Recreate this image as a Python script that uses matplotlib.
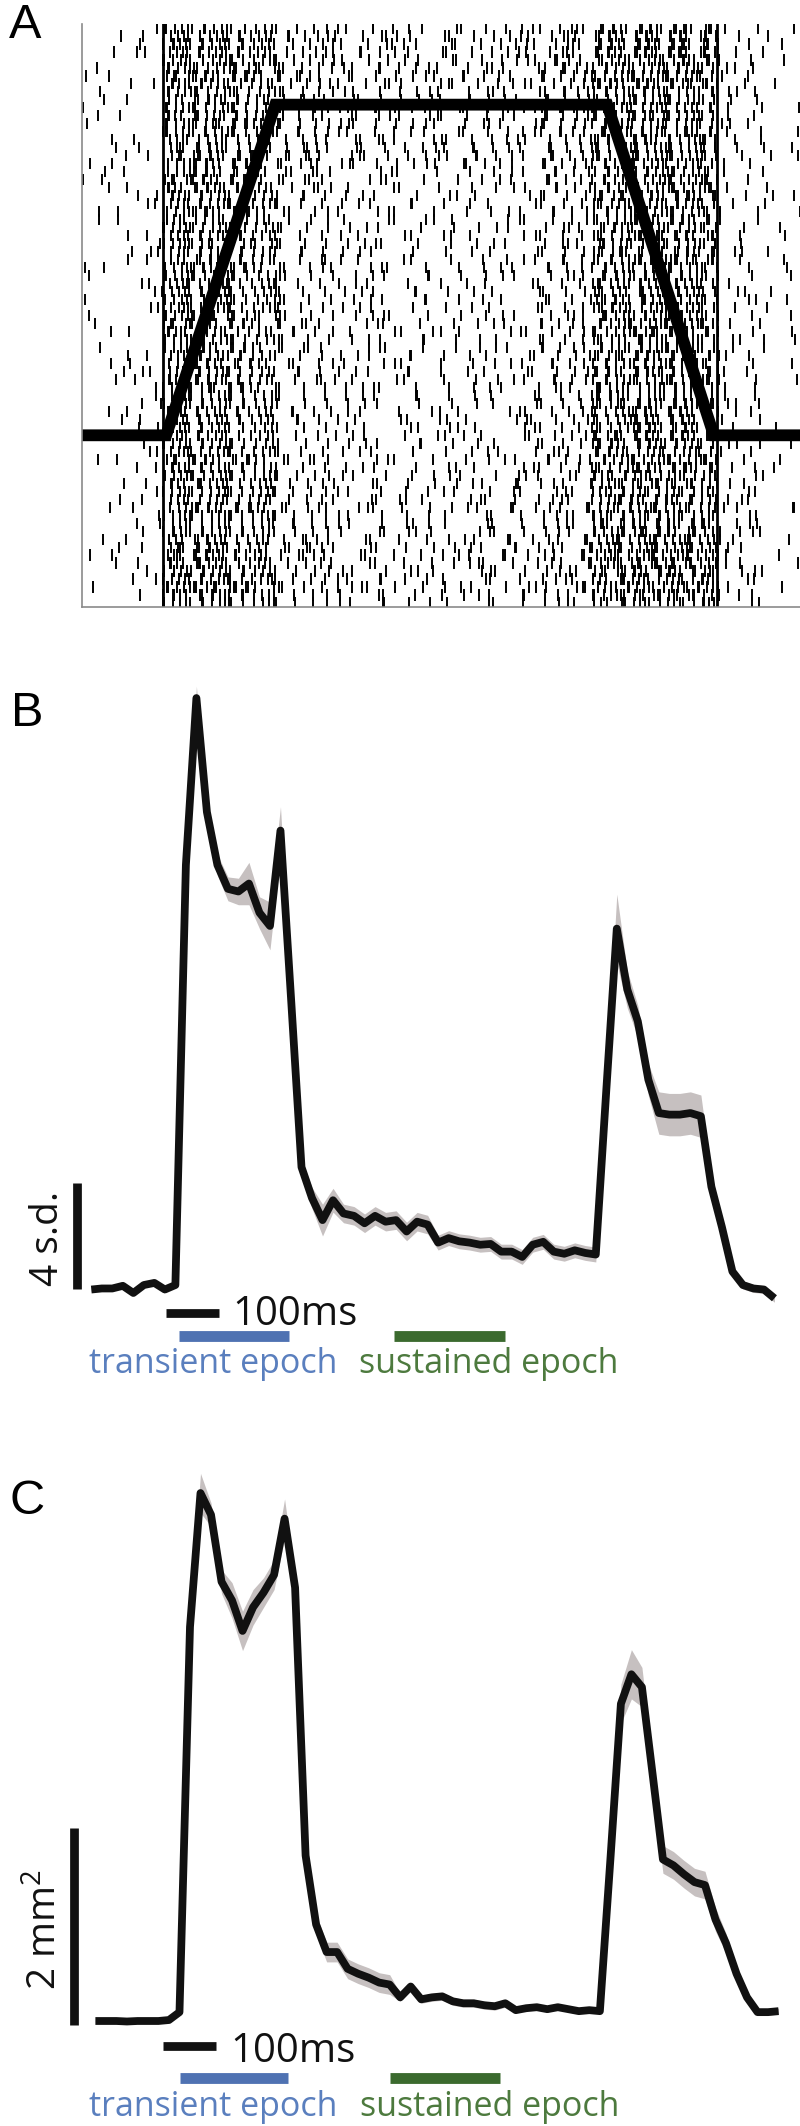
import numpy as np
import matplotlib
matplotlib.use("Agg")
import matplotlib.pyplot as plt

plt.rcParams['font.family'] = ['Open Sans', 'DejaVu Sans']
plt.rcParams['mathtext.fontset'] = 'custom'
plt.rcParams['mathtext.rm'] = 'Open Sans'
plt.rcParams['mathtext.it'] = 'Open Sans'

# ---------------- data ----------------
# Panel A: raster, firing rate (Hz) read per time bin and per band of trials
A_bin_edges = [-160, 0, 70, 150, 230, 330, 460, 600, 740, 840, 920, 1000, 1090, 1170, 1250]
A_rate_top      = [10, 85, 80, 65, 42, 34, 30, 32, 45, 80, 88, 82, 20, 14]
A_rate_uppermid = [12, 85, 78, 60, 32, 24, 20, 22, 34, 80, 88, 82, 18, 13]
A_rate_lowermid = [12, 85, 78, 60, 32, 24, 20, 24, 36, 80, 88, 82, 18, 13]
A_rate_bottom   = [10, 85, 80, 65, 38, 28, 24, 26, 38, 80, 90, 84, 20, 14]
A_band_rows = [17, 19, 19, 18]          # bottom, lower-mid, upper-mid, top
A_event_lines = [0, 1086]               # ms
A_stim_t = [-160, 6, 220, 871, 1080, 1250]
A_stim_y = [21.5, 21.5, 62.9, 62.9, 21.5, 21.5]

# Panels B and C: time (ms), sampled every 20 ms
t_ms = np.arange(-200, 1101, 20)
B_mean = [-0.02, 0.02, 0.02, 0.12, -0.15, 0.15, 0.23, -0.02, 0.15, 16.0,
          22.3, 18.0, 16.0, 15.1, 15.0, 15.3, 14.2, 13.7, 17.3, 11.0,
          4.6, 3.43, 2.6, 3.35, 2.85, 2.76, 2.48, 2.76, 2.54, 2.6,
          2.17, 2.54, 2.43, 1.75, 1.92, 1.8, 1.75, 1.67, 1.7, 1.41,
          1.41, 1.21, 1.67, 1.78, 1.41, 1.33, 1.46, 1.36, 1.30, 7.5,
          13.6, 11.3, 10.1, 7.9, 6.64, 6.58, 6.58, 6.64, 6.52, 3.86,
          2.34, 0.66, 0.15, 0.02, -0.02, -0.35]
B_sem = [0.06, 0.06, 0.06, 0.06, 0.06, 0.06, 0.06, 0.06, 0.06, 0.3,
         0.45, 0.35, 0.4, 0.45, 0.5, 0.8, 0.6, 0.9, 0.9, 0.5,
         0.3, 0.4, 0.6, 0.45, 0.35, 0.35, 0.35, 0.35, 0.35, 0.35,
         0.35, 0.35, 0.35, 0.28, 0.28, 0.28, 0.28, 0.28, 0.28, 0.28,
         0.28, 0.28, 0.28, 0.28, 0.28, 0.28, 0.28, 0.28, 0.28, 0.5,
         1.3, 0.7, 0.6, 0.6, 0.8, 0.8, 0.8, 0.8, 0.8, 0.5,
         0.3, 0.15, 0.15, 0.15, 0.15, 0.15]
C_mean = [0.0, 0.0, 0.0, -0.005, 0.0, 0.0, 0.0, 0.01, 0.09, 4.0,
          5.36, 5.14, 4.46, 4.27, 3.96, 4.20, 4.35, 4.53, 5.10, 4.40,
          1.68, 0.98, 0.70, 0.70, 0.53, 0.48, 0.44, 0.39, 0.37, 0.24,
          0.35, 0.22, 0.24, 0.25, 0.20, 0.18, 0.18, 0.16, 0.15, 0.18,
          0.11, 0.13, 0.14, 0.12, 0.14, 0.12, 0.10, 0.11, 0.10, 1.64,
          3.22, 3.52, 3.39, 2.52, 1.64, 1.58, 1.49, 1.41, 1.38, 1.03,
          0.79, 0.48, 0.24, 0.09, 0.09, 0.10]
C_sem = [0.01, 0.01, 0.01, 0.01, 0.01, 0.01, 0.01, 0.01, 0.03, 0.1,
         0.2, 0.12, 0.12, 0.18, 0.2, 0.18, 0.15, 0.15, 0.2, 0.12,
         0.08, 0.1, 0.1, 0.1, 0.1, 0.1, 0.1, 0.1, 0.1, 0.04,
         0.04, 0.04, 0.04, 0.04, 0.04, 0.04, 0.04, 0.04, 0.04, 0.04,
         0.02, 0.02, 0.02, 0.02, 0.02, 0.02, 0.02, 0.02, 0.02, 0.1,
         0.2, 0.25, 0.2, 0.15, 0.14, 0.14, 0.14, 0.14, 0.14, 0.12,
         0.1, 0.06, 0.03, 0.03, 0.03, 0.03]

scale_ms = 100
B_scale = 4
C_scale = 2
labels_epoch = ['transient epoch', 'sustained epoch']

# ---------------- style ----------------
BLUE_BAR, BLUE_TXT = '#4f72b2', '#5a7fbe'
GREEN_BAR, GREEN_TXT = '#3b6a2e', '#4d7a3e'
BAND = '#c6c0c0'

W, H = 800, 2126
fig = plt.figure(figsize=(W / 100, H / 100), dpi=100)


def rect(x0, y0, x1, y1):
    return [x0 / W, 1 - y1 / H, (x1 - x0) / W, (y1 - y0) / H]


# ---------------- Panel A ----------------
axA = fig.add_axes(rect(82, 24, 800, 607))
bands = [A_rate_bottom, A_rate_lowermid, A_rate_uppermid, A_rate_top]
row_rates = []
for nb, rates in zip(A_band_rows, bands):
    row_rates += [rates] * nb
n_rows = len(row_rates)

edges = np.array(A_bin_edges, dtype=float)
spikes = []
for r, rates in enumerate(row_rates):
    # cumulative expected spike count along the trial (from the read rates)
    cum = np.concatenate([[0.0], np.cumsum(np.array(rates) * np.diff(edges) / 1000.0)])
    off = (r * 0.6180339887 + 0.37) % 1
    n = int(np.floor(cum[-1] + off))
    j = np.arange(n)
    # deterministic spread of spikes within the expected-count scale
    spread = ((j * j) * 0.41421356 + j * 0.2360679 + r * 0.5698403 + r * r * 0.0314159) % 1
    c = np.clip(j + off + 1.6 * (spread - 0.5), 0, cum[-1])
    spikes.append(np.interp(c, cum, edges))

axA.eventplot(spikes, lineoffsets=np.arange(n_rows) + 0.5, linelengths=1.4,
              linewidths=1.4, colors='black')
for tl in A_event_lines:
    axA.axvline(tl, color='black', lw=2.0)
axA.plot(A_stim_t, A_stim_y, color='black', lw=8.5, solid_joinstyle='miter',
         solid_capstyle='butt')
axA.set_xlim(-159, 1249)
axA.set_ylim(0, n_rows)
axA.set_xticks([]); axA.set_yticks([])
for s in ['top', 'right']:
    axA.spines[s].set_visible(False)
for s in ['left', 'bottom']:
    axA.spines[s].set_color('#8a8a8a')
    axA.spines[s].set_linewidth(1.2)


# ---------------- Panel B / C helper ----------------
def trace_panel(ax, mean, sem, x0px, base_py, px_per_unit, y_top_px, y_bot_px,
                vbar_px, vbar_len, vlabel, vlabel_pos, hbar_px, hbar_y, txt100,
                blue_px, green_px, bar_y, epoch_txt):
    fx = lambda px: (px - x0px) / 0.5255
    fy = lambda py: (base_py - py) / px_per_unit
    m = np.array(mean); s = np.array(sem)
    ax.fill_between(t_ms, m - s, m + s, color=BAND, lw=0)
    ax.plot(t_ms, m, color='#111111', lw=5.6, solid_joinstyle='round',
            solid_capstyle='butt')
    ax.set_xlim(fx(0), fx(W))
    ax.set_ylim(fy(y_bot_px), fy(y_top_px))
    ax.axis('off')
    # vertical scale bar
    vb0 = fy(vbar_px[1])
    ax.plot([fx(vbar_px[0])] * 2, [vb0, vb0 + vbar_len], color='#111111',
            lw=6.3, solid_capstyle='butt')
    ax.text(fx(vlabel_pos[0]), fy(vlabel_pos[1]), vlabel, rotation=90,
            ha='center', va='center', fontsize=28, color='#111111')
    # horizontal 100ms bar
    h0 = fx(hbar_px)
    ax.plot([h0, h0 + scale_ms], [fy(hbar_y)] * 2, color='#111111', lw=6.3,
            solid_capstyle='butt')
    ax.text(fx(txt100[0]), fy(txt100[1]), '100ms', ha='left', va='baseline',
            fontsize=29, color='#111111')
    # epoch bars
    ax.plot([fx(blue_px[0]), fx(blue_px[1])], [fy(bar_y)] * 2, color=BLUE_BAR,
            lw=7.8, solid_capstyle='butt')
    ax.plot([fx(green_px[0]), fx(green_px[1])], [fy(bar_y)] * 2, color=GREEN_BAR,
            lw=7.8, solid_capstyle='butt')
    ax.text(fx(epoch_txt[0]), fy(epoch_txt[2]), labels_epoch[0], ha='left',
            va='baseline', fontsize=24.5, color=BLUE_TXT)
    ax.text(fx(epoch_txt[1]), fy(epoch_txt[2]), labels_epoch[1], ha='left',
            va='baseline', fontsize=24.5, color=GREEN_TXT)


axB = fig.add_axes(rect(0, 660, 800, 1390))
trace_panel(axB, B_mean, B_sem, x0px=196.4, base_py=1289, px_per_unit=26.5,
            y_top_px=660, y_bot_px=1390,
            vbar_px=(77, 1289), vbar_len=B_scale, vlabel='4 s.d.',
            vlabel_pos=(48, 1238), hbar_px=166, hbar_y=1313, txt100=(232, 1325),
            blue_px=(179, 289), green_px=(394, 505), bar_y=1336,
            epoch_txt=(89, 359, 1373))

axC = fig.add_axes(rect(0, 1450, 800, 2126))
trace_panel(axC, C_mean, C_sem, x0px=200.5, base_py=2021, px_per_unit=98.5,
            y_top_px=1450, y_bot_px=2126,
            vbar_px=(74, 2025), vbar_len=C_scale, vlabel='2 mm$^{2}$',
            vlabel_pos=(46, 1930), hbar_px=163, hbar_y=2046, txt100=(230, 2062),
            blue_px=(180, 288), green_px=(390, 500), bar_y=2078,
            epoch_txt=(89, 360, 2116))

# panel letters
for lab, (px, py) in zip(['A', 'B', 'C'], [(25, 26), (27, 714), (27, 1501)]):
    fig.text(px / W, 1 - py / H, lab, ha='center', va='center', fontsize=35,
             family=['Liberation Sans', 'DejaVu Sans'], color='black')

fig.savefig('out.png', dpi=100, facecolor='white')
